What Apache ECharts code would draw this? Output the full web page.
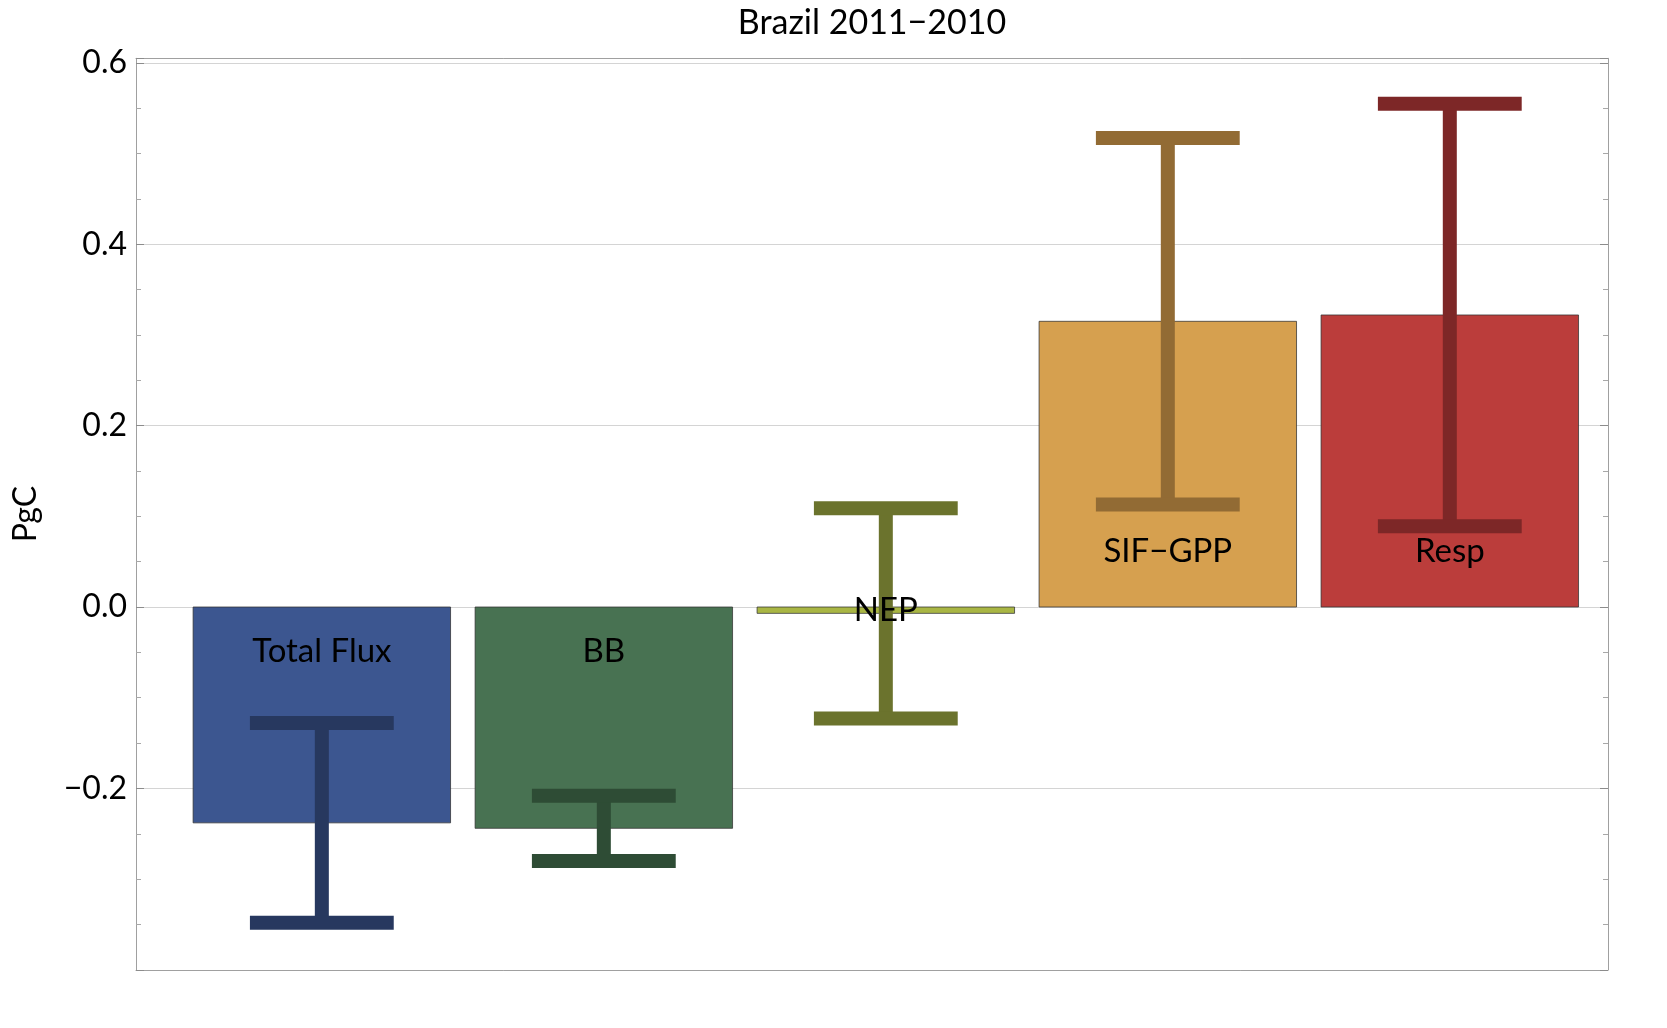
<!DOCTYPE html>
<html>
<head>
<meta charset="utf-8">
<title>Brazil 2011−2010</title>
<script src="https://cdn.jsdelivr.net/npm/echarts@6/dist/echarts.min.js"></script>
<style>
html, body { margin: 0; padding: 0; background: #fff; }
#chart { width: 1667px; height: 1028px; }
</style>
</head>
<body>
<div id="chart"></div>
<script>
// values (PgC)
const categories = ['Total Flux', 'BB', 'NEP', 'SIF−GPP', 'Resp']
const values = [-0.238, -0.244, -0.007, 0.315, 0.322]
const errors = [0.110, 0.036, 0.116, 0.202, 0.233]
const yTickLabels = [-0.2, 0.0, 0.2, 0.4, 0.6]

const barColors = ['#3c5690', '#487252', '#a9b644', '#d6a04f', '#bb3d3b']
const errColors = ['#27385f', '#2e4c35', '#6b732d', '#926b34', '#7d2727']

const FONT = 'Lato'
const barWidth = 0.913   // in category units
const capWidth = 0.51

const chart = echarts.init(document.getElementById('chart'))

const barData = values.map((v, i) => [i, v])
const errData = values.map((v, i) => [i, v - errors[i], v + errors[i]])

const fmt = (v) => {
  const hit = yTickLabels.some(t => Math.abs(t - v) < 1e-9)
  if (!hit) return ''
  return v.toFixed(1).replace('-', '−')
}

const xAxisBase = {
  type: 'value',
  min: -0.659,
  max: 4.561,
  axisLine: { show: true, onZero: false, lineStyle: { color: '#a0a0a0', width: 1 } },
  axisTick: { show: false },
  axisLabel: { show: false },
  splitLine: { show: false },
}

const yAxisBase = {
  type: 'value',
  min: -0.4,
  max: 0.605,
  interval: 0.2,
  axisLine: { show: true, onZero: false, lineStyle: { color: '#a0a0a0', width: 1 } },
  axisTick: { show: true, inside: true, length: 8, lineStyle: { color: '#8c8c8c' } },
  minorTick: { show: true, splitNumber: 4, length: 5, lineStyle: { color: '#a8a8a8' } },
}

chart.setOption({
  animation: false,
  backgroundColor: '#fff',
  grid: {
    left: 136,
    right: 59,
    top: 58.3,
    bottom: 58.2,
  },
  xAxis: [
    { ...xAxisBase, position: 'bottom' },
    {
      ...xAxisBase,
      position: 'top',
      // plot title sits centred over the frame, not the page
      name: 'Brazil 2011−2010',
      nameLocation: 'middle',
      nameGap: 18,
      nameTextStyle: { fontFamily: FONT, fontSize: 34, color: '#000' },
    },
  ],
  yAxis: [
    {
      ...yAxisBase,
      position: 'left',
      axisLabel: {
        show: true,
        fontFamily: FONT,
        fontSize: 32,
        color: '#000',
        margin: 9,
        showMinLabel: false,
        showMaxLabel: false,
        formatter: fmt,
      },
      splitLine: { show: true, lineStyle: { color: '#d4d4d4', width: 1 } },
      name: 'PgC',
      nameLocation: 'middle',
      nameGap: 94,
      nameTextStyle: { fontFamily: FONT, fontSize: 32, color: '#000' },
    },
    {
      ...yAxisBase,
      position: 'right',
      axisLabel: { show: false },
      splitLine: { show: false },
    },
  ],
  series: [
    {
      type: 'custom',
      name: 'bars',
      data: barData,
      encode: { x: 0, y: 1 },
      renderItem: (params, api) => {
        const i = api.value(0)
        const v = api.value(1)
        const base = api.coord([i, 0])
        const end = api.coord([i, v])
        const w = api.size([barWidth, 0])[0]
        return {
          type: 'rect',
          shape: {
            x: base[0] - w / 2,
            y: Math.min(base[1], end[1]),
            width: w,
            height: Math.abs(end[1] - base[1]),
          },
          style: { fill: barColors[i], stroke: 'rgba(50,50,50,0.75)', lineWidth: 1 },
        }
      },
      z: 2,
    },
    {
      type: 'custom',
      name: 'errors',
      data: errData,
      encode: { x: 0, y: [1, 2] },
      renderItem: (params, api) => {
        const i = api.value(0)
        const lo = api.coord([i, api.value(1)])
        const hi = api.coord([i, api.value(2)])
        const half = api.size([capWidth, 0])[0] / 2
        const style = { stroke: errColors[i], lineWidth: 14 }
        return {
          type: 'group',
          children: [
            { type: 'line', shape: { x1: lo[0], y1: lo[1], x2: hi[0], y2: hi[1] }, style },
            { type: 'line', shape: { x1: lo[0] - half, y1: lo[1], x2: lo[0] + half, y2: lo[1] }, style },
            { type: 'line', shape: { x1: hi[0] - half, y1: hi[1], x2: hi[0] + half, y2: hi[1] }, style },
          ],
        }
      },
      z: 3,
    },
    {
      type: 'custom',
      name: 'labels',
      data: barData,
      encode: { x: 0, y: 1 },
      renderItem: (params, api) => {
        const i = api.value(0)
        const v = api.value(1)
        const base = api.coord([i, 0])
        const end = api.coord([i, v])
        let y = (base[1] + end[1]) / 2
        if (v < -0.05) y = base[1] + 44
        else if (v > 0.05) y = base[1] - 56
        return {
          type: 'text',
          x: base[0],
          y: y,
          style: {
            text: categories[i],
            fontFamily: FONT,
            fontSize: 33,
            fill: '#000',
            align: 'center',
            verticalAlign: 'middle',
          },
        }
      },
      z: 4,
    },
  ],
})
</script>
</body>
</html>
